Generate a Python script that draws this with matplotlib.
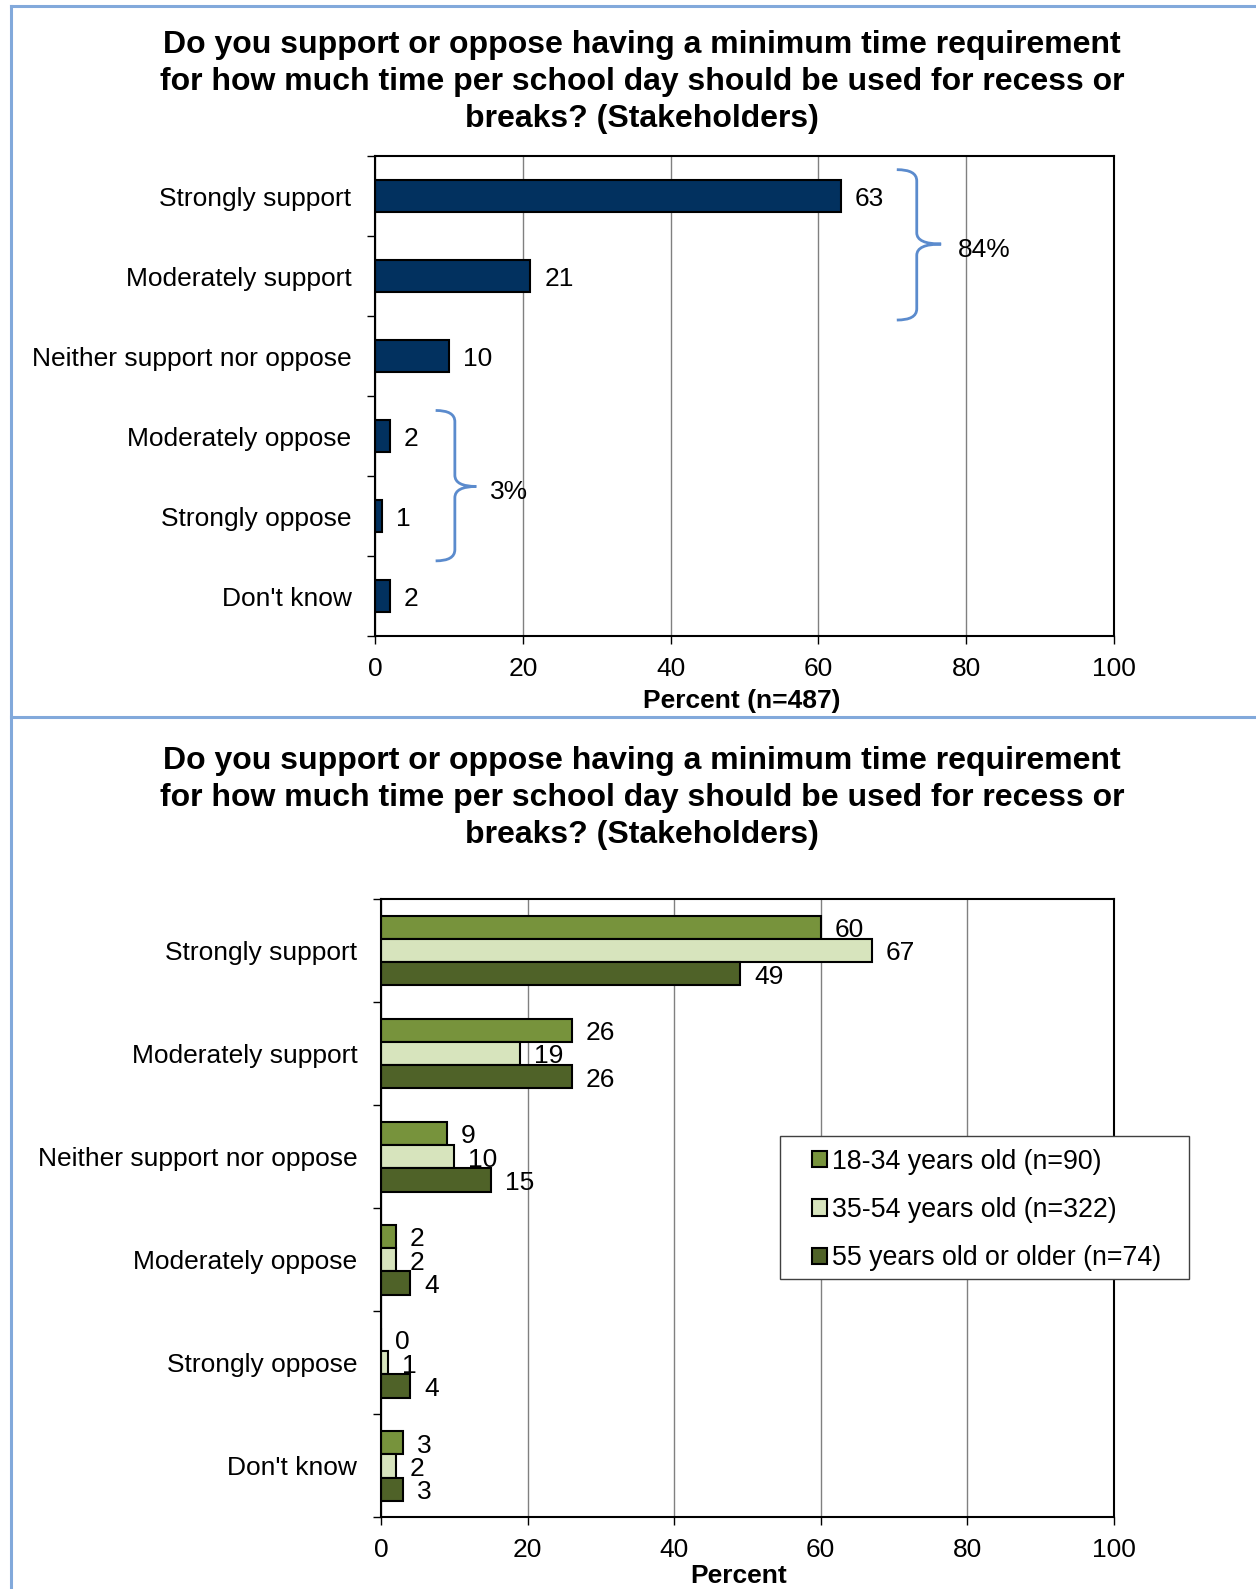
import numpy as np
import matplotlib
matplotlib.use("Agg")
import matplotlib.pyplot as plt
from matplotlib.path import Path
from matplotlib.patches import PathPatch, Patch, Rectangle
from matplotlib.lines import Line2D

plt.rcParams['font.family'] = ['Liberation Sans', 'DejaVu Sans']

title = ("Do you support or oppose having a minimum time requirement\n"
         "for how much time per school day should be used for recess or\n"
         "breaks? (Stakeholders)")

categories = ["Strongly support", "Moderately support", "Neither support nor oppose",
              "Moderately oppose", "Strongly oppose", "Don't know"]

# all stakeholders
overall = [63, 21, 10, 2, 1, 2]
support_total = "84%"
oppose_total = "3%"

# by age group
age_groups = ["18-34 years old (n=90)", "35-54 years old (n=322)",
              "55 years old or older (n=74)"]
age_18_34 = [60, 26, 9, 2, 0, 3]
age_35_54 = [67, 19, 10, 2, 1, 2]
age_55_up = [49, 26, 15, 4, 4, 3]

xticks = [0, 20, 40, 60, 80, 100]

navy = "#02315F"
greens = ["#77933C", "#D7E4BD", "#4F6228"]
brace_col = "#5B8BCD"
frame_col = "#82A9DB"
fs = 19


def style_axes(ax):
    ax.set_xlim(0, 100)
    ax.set_ylim(5.5, -0.5)
    ax.set_xticks(xticks)
    ax.set_xticklabels([str(t) for t in xticks], fontsize=fs)
    ax.set_yticks(np.arange(-0.5, 6, 1))
    ax.set_yticklabels([])
    ax.set_yticks(np.arange(6), minor=True)
    ax.set_yticklabels(categories, minor=True, fontsize=fs)
    ax.tick_params(axis='y', which='major', length=6, width=1, direction='out')
    ax.tick_params(axis='y', which='minor', length=0, pad=17)
    ax.tick_params(axis='x', length=6, width=1, direction='out', pad=9)
    ax.grid(axis='x', color='#808080', linewidth=1)
    ax.set_axisbelow(True)
    for s in ax.spines.values():
        s.set_linewidth(1.5)
        s.set_color('black')


def brace(ax, x0, xm, xt, y0, y1, yt, r=0.14):
    verts = [(x0, y0), (xm, y0), (xm, y0 + r),
             (xm, yt - r), (xm, yt), (xt, yt),
             (xm, yt), (xm, yt + r),
             (xm, y1 - r), (xm, y1), (x0, y1)]
    codes = [Path.MOVETO, Path.CURVE3, Path.CURVE3,
             Path.LINETO, Path.CURVE3, Path.CURVE3,
             Path.CURVE3, Path.CURVE3,
             Path.LINETO, Path.CURVE3, Path.CURVE3]
    ax.add_patch(PathPatch(Path(verts, codes), fill=False, edgecolor=brace_col,
                           linewidth=2, clip_on=False))


def value_labels(ax, pos, vals):
    for yi, v in zip(pos, vals):
        ax.annotate(str(v), (v, yi), xytext=(10, -2), textcoords='offset points',
                    ha='left', va='center', fontsize=fs)


fig = plt.figure(figsize=(12.56, 15.89), dpi=100)

# ---- top chart: all stakeholders
ax1 = fig.add_axes([0.2986, 0.5997, 0.5884, 0.3021])
y = np.arange(len(categories))
ax1.barh(y, overall, height=0.41, color=navy, edgecolor='black', linewidth=1.5)
value_labels(ax1, y, overall)
style_axes(ax1)
ax1.set_xlabel("Percent (n=487)", fontsize=fs, fontweight='bold')
ax1.xaxis.set_label_coords(0.4966, -0.1095)

brace(ax1, 70.6, 73.3, 76.6, -0.33, 1.55, 0.6)
ax1.text(78.9, 0.68, support_total, fontsize=fs, ha='left', va='center')
brace(ax1, 8.2, 10.8, 13.7, 2.68, 4.56, 3.63)
ax1.text(15.5, 3.7, oppose_total, fontsize=fs, ha='left', va='center')

fig.text(0.511, 0.9485, title, ha='center', va='center', fontsize=23,
         fontweight='bold', linespacing=1.29)

# ---- bottom chart: by age group
ax2 = fig.add_axes([0.3033, 0.045, 0.5836, 0.3892])
h = 0.225
for k, (vals, col, lab) in enumerate(zip([age_18_34, age_35_54, age_55_up], greens, age_groups)):
    pos = y + (k - 1) * h
    ax2.barh(pos, vals, height=h, color=col, edgecolor='black', linewidth=1.5, label=lab)
    value_labels(ax2, pos, vals)
style_axes(ax2)
ax2.set_xlabel("Percent", fontsize=fs, fontweight='bold')
ax2.xaxis.set_label_coords(0.488, -0.076)

# legend with a plain rectangular frame
handles = [Patch(facecolor=c, edgecolor='black', linewidth=1.5) for c in greens]
fig.legend(handles, age_groups, loc='upper left', bbox_to_anchor=(0.6467, 0.2771),
           fontsize=19.3, frameon=False,
           handlelength=0.55, handleheight=0.55, handletextpad=0.2,
           labelspacing=0.83, borderpad=0, borderaxespad=0)
fig.add_artist(Rectangle((780 / 1256, 1 - 1279 / 1589), 409 / 1256, 143 / 1589,
                         transform=fig.transFigure, facecolor='white',
                         edgecolor='#404040', linewidth=1, zorder=2.5))

fig.text(0.511, 0.4979, title, ha='center', va='center', fontsize=23,
         fontweight='bold', linespacing=1.29)

# panel frame lines
fig.add_artist(Line2D([0.009, 0.009], [0, 0.9965], color=frame_col, linewidth=2.2))
fig.add_artist(Line2D([0.009, 1.0], [0.9965, 0.9965], color=frame_col, linewidth=2.2))
fig.add_artist(Line2D([0.009, 1.0], [0.5487, 0.5487], color=frame_col, linewidth=2.2))

fig.savefig("out.png", dpi=100)
